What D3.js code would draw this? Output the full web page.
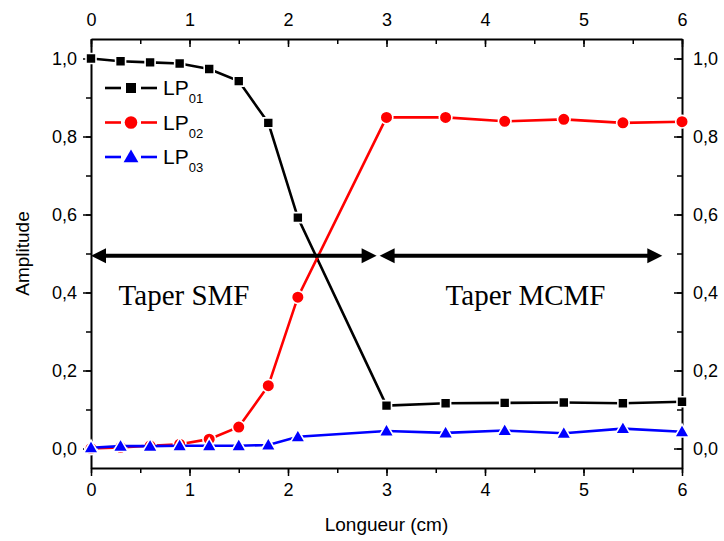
<!DOCTYPE html>
<html>
<head>
<meta charset="utf-8">
<script src="https://cdn.jsdelivr.net/npm/d3@7"></script>
<style>
  html, body { margin: 0; padding: 0; background: #fff; }
  svg { display: block; }
</style>
</head>
<body>
<svg id="chart" width="724" height="541"></svg>
<script>
// ---------- data ----------
const xValues = [0, 0.3, 0.6, 0.9, 1.2, 1.5, 1.8, 2.1, 3.0, 3.6, 4.2, 4.8, 5.4, 6.0];
const lp01 = [1.000, 0.993, 0.990, 0.987, 0.973, 0.942, 0.835, 0.592, 0.110, 0.116, 0.117, 0.118, 0.116, 0.120];
const lp02 = [0.000, 0.003, 0.007, 0.011, 0.024, 0.055, 0.161, 0.388, 0.849, 0.849, 0.839, 0.844, 0.835, 0.838];
const lp03 = [0.002, 0.006, 0.006, 0.007, 0.007, 0.007, 0.009, 0.030, 0.045, 0.040, 0.046, 0.039, 0.051, 0.043];
const seriesNames = ["01", "02", "03"];
const seriesColors = ["#000000", "#ff0000", "#0000ff"];
const seriesSymbols = ["square", "circle", "triangle"];
const xTicks = [0, 1, 2, 3, 4, 5, 6];
const yTicks = [0, 0.2, 0.4, 0.6, 0.8, 1.0];
const xLabel = "Longueur (cm)";
const yLabel = "Amplitude";
// annotations (data units)
const arrowSpans = [[0, 2.9], [2.93, 5.8]];
const arrowLevel = 0.494;
const regionLabels = [{ text: "Taper SMF", x: 0.28 }, { text: "Taper MCMF", x: 3.6 }];
const regionLabelLevel = 0.368;

// ---------- layout ----------
const svg = d3.select("#chart");
const L = 91, R = 682, T = 39, B = 468;
const x = d3.scaleLinear().domain([0, 6]).range([L, R]);
const y = d3.scaleLinear().domain([-0.05, 1.05]).range([B, T]);
const fmt = v => d3.format(".1f")(v).replace(".", ",");
const tickFont = "'Liberation Sans', Arial, sans-serif";

// ---------- axes ----------
function styleAxis(g) {
  g.selectAll("path.domain").attr("stroke", "#000").attr("stroke-width", 2);
  g.selectAll(".tick line").attr("stroke", "#000").attr("stroke-width", 1.5);
  g.selectAll(".tick text").attr("font-family", tickFont).attr("font-size", 18).attr("fill", "#000");
}
const xMinor = d3.range(0, 6.01, 0.5);
const yMinor = d3.range(0, 1.001, 0.1);

// bottom: outward ticks
const gB = svg.append("g").attr("transform", `translate(0,${B})`)
  .call(d3.axisBottom(x).tickValues(xMinor).tickSize(5).tickFormat(""));
gB.call(g => g.selectAll("path.domain").remove());
gB.selectAll(".tick line").attr("stroke", "#000").attr("stroke-width", 1.5);
const gB2 = svg.append("g").attr("transform", `translate(0,${B})`)
  .call(d3.axisBottom(x).tickValues(xTicks).tickSize(8).tickSizeOuter(0).tickPadding(7).tickFormat(d3.format("d")));
styleAxis(gB2);

// top: inward ticks, labels above
const gT = svg.append("g").attr("transform", `translate(0,${T})`)
  .call(d3.axisBottom(x).tickValues(xMinor).tickSize(5).tickFormat(""));
gT.call(g => g.selectAll("path.domain").remove());
gT.selectAll(".tick line").attr("stroke", "#000").attr("stroke-width", 1.5);
const gT2 = svg.append("g").attr("transform", `translate(0,${T})`)
  .call(d3.axisBottom(x).tickValues(xTicks).tickSize(8).tickSizeOuter(0).tickFormat(""));
styleAxis(gT2);
gT2.selectAll(".tick").append("text")
  .attr("y", -13).attr("text-anchor", "middle")
  .attr("font-family", tickFont).attr("font-size", 18).attr("fill", "#000")
  .text(d => d3.format("d")(d));

// left: outward ticks
const gL = svg.append("g").attr("transform", `translate(${L},0)`)
  .call(d3.axisLeft(y).tickValues(yMinor).tickSize(5).tickFormat(""));
gL.call(g => g.selectAll("path.domain").remove());
gL.selectAll(".tick line").attr("stroke", "#000").attr("stroke-width", 1.5);
const gL2 = svg.append("g").attr("transform", `translate(${L},0)`)
  .call(d3.axisLeft(y).tickValues(yTicks).tickSize(8).tickSizeOuter(0).tickPadding(6).tickFormat(fmt));
styleAxis(gL2);

// right: inward ticks, labels outside
const gR = svg.append("g").attr("transform", `translate(${R},0)`)
  .call(d3.axisLeft(y).tickValues(yMinor).tickSize(5).tickFormat(""));
gR.call(g => g.selectAll("path.domain").remove());
gR.selectAll(".tick line").attr("stroke", "#000").attr("stroke-width", 1.5);
const gR2 = svg.append("g").attr("transform", `translate(${R},0)`)
  .call(d3.axisLeft(y).tickValues(yTicks).tickSize(8).tickSizeOuter(0).tickFormat(""));
styleAxis(gR2);
gR2.selectAll(".tick").append("text")
  .attr("x", 11).attr("dy", "0.35em").attr("text-anchor", "start")
  .attr("font-family", tickFont).attr("font-size", 18).attr("fill", "#000")
  .text(d => fmt(d));

// axis titles
svg.append("text").attr("x", (L + R) / 2).attr("y", 531).attr("text-anchor", "middle")
  .attr("font-family", tickFont).attr("font-size", 19).text(xLabel);
svg.append("text").attr("transform", `translate(29,${(T + B) / 2}) rotate(-90)`).attr("text-anchor", "middle")
  .attr("font-family", tickFont).attr("font-size", 19).text(yLabel);

// ---------- series ----------
const allSeries = [lp01, lp02, lp03];
const symbolTypes = { square: d3.symbolSquare, circle: d3.symbolCircle, triangle: d3.symbolTriangle };
const symbolSizes = { square: 100, circle: 125, triangle: 95 };
const line = d3.line().x(d => x(d[0])).y(d => y(d[1]));

allSeries.forEach((vals, i) => {
  const pts = xValues.map((xv, j) => [xv, vals[j]]);
  const g = svg.append("g");
  g.append("path").datum(pts).attr("d", line)
    .attr("fill", "none").attr("stroke", seriesColors[i]).attr("stroke-width", 2.6);
  const sym = d3.symbol().type(symbolTypes[seriesSymbols[i]]).size(symbolSizes[seriesSymbols[i]]);
  g.selectAll("path.m").data(pts).join("path").attr("class", "m")
    .attr("transform", d => `translate(${x(d[0])},${y(d[1]) + (seriesSymbols[i] === "triangle" ? 1 : 0)})`)
    .attr("d", sym)
    .attr("fill", seriesColors[i]).attr("stroke", "#fff").attr("stroke-width", 1.6);
});

// ---------- annotations ----------
const ay = y(arrowLevel);
arrowSpans.forEach(([a, b]) => {
  const x1 = x(a), x2 = x(b);
  const hl = 15, hh = 7.5;
  svg.append("line").attr("x1", x1 + hl - 2).attr("x2", x2 - hl + 2).attr("y1", ay).attr("y2", ay)
    .attr("stroke", "#000").attr("stroke-width", 4);
  svg.append("path").attr("d", `M${x1},${ay} L${x1 + hl},${ay - hh} L${x1 + hl},${ay + hh} Z`).attr("fill", "#000");
  svg.append("path").attr("d", `M${x2},${ay} L${x2 - hl},${ay - hh} L${x2 - hl},${ay + hh} Z`).attr("fill", "#000");
});
regionLabels.forEach(r => {
  svg.append("text").attr("x", x(r.x)).attr("y", y(regionLabelLevel))
    .attr("font-family", "'Liberation Serif', 'Times New Roman', serif").attr("font-size", 29)
    .attr("fill", "#000").text(r.text);
});

// ---------- legend ----------
const legX = 105, legY0 = 88, legDY = 34.5;
seriesNames.forEach((name, i) => {
  const ly = legY0 + i * legDY;
  const g = svg.append("g");
  g.append("line").attr("x1", legX).attr("x2", legX + 16).attr("y1", ly).attr("y2", ly)
    .attr("stroke", seriesColors[i]).attr("stroke-width", 2.6);
  g.append("line").attr("x1", legX + 36).attr("x2", legX + 52).attr("y1", ly).attr("y2", ly)
    .attr("stroke", seriesColors[i]).attr("stroke-width", 2.6);
  const sym = d3.symbol().type(symbolTypes[seriesSymbols[i]]).size(symbolSizes[seriesSymbols[i]]);
  g.append("path").attr("d", sym)
    .attr("transform", `translate(${legX + 26},${ly + (seriesSymbols[i] === "triangle" ? 1 : 0)})`)
    .attr("fill", seriesColors[i]);
  const t = g.append("text").attr("x", legX + 58).attr("y", ly + 7)
    .attr("font-family", tickFont).attr("font-size", 21).attr("fill", "#000");
  t.append("tspan").text("LP");
  t.append("tspan").attr("dy", 8).attr("font-size", 13).text(name);
});
</script>
</body>
</html>
